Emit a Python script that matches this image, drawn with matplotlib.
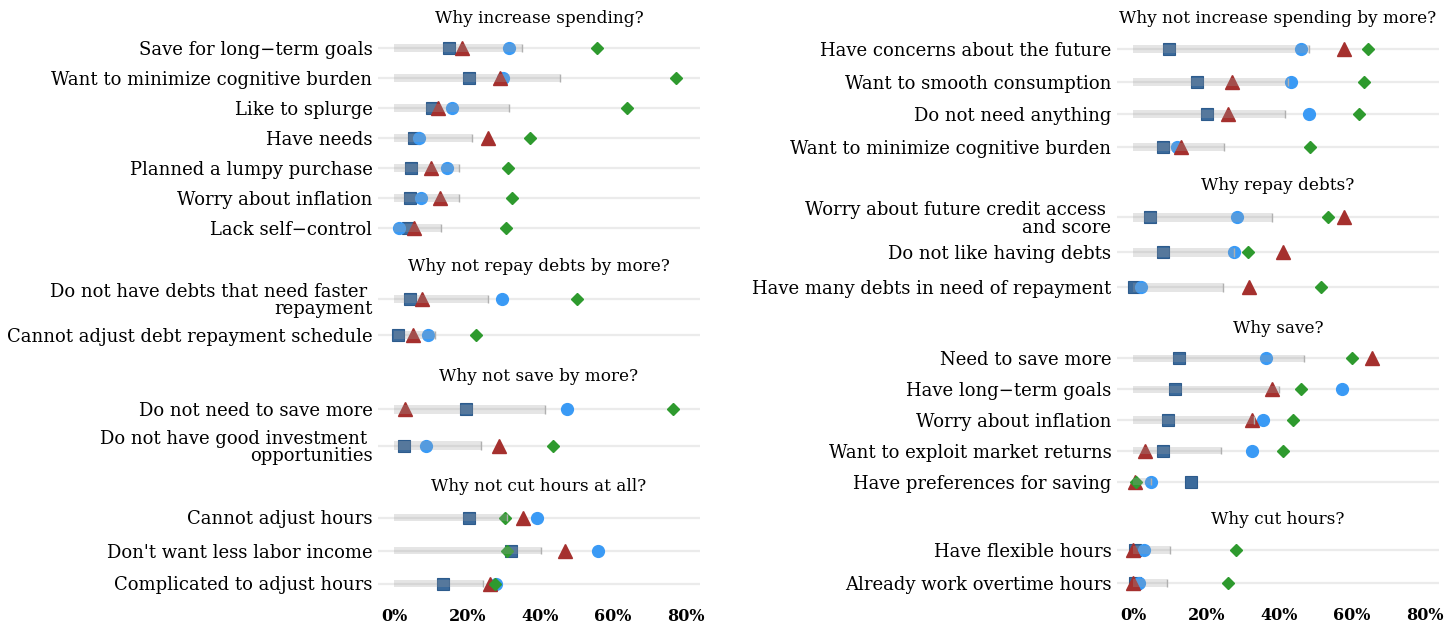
import matplotlib
matplotlib.use("Agg")
import matplotlib.pyplot as plt

plt.rcParams['font.family'] = ['DejaVu Serif']

# ---- data (percent of respondents) ----
# left column
inc_spend_labels = ["Save for long\u2212term goals", "Want to minimize cognitive burden", "Like to splurge",
                    "Have needs", "Planned a lumpy purchase", "Worry about inflation", "Lack self\u2212control"]
inc_spend_range = [35.1, 45.4, 31.4, 21.2, 17.7, 17.7, 12.7]
inc_spend_square = [14.9, 20.4, 10.3, 5.5, 4.5, 4.2, 3.7]
inc_spend_circle = [31.4, 29.9, 15.9, 6.7, 14.5, 7.2, 1.4]
inc_spend_triangle = [18.6, 29.0, 11.9, 25.7, 10.1, 12.6, 5.4]
inc_spend_diamond = [55.6, 77.5, 63.8, 37.4, 31.1, 32.3, 30.7]

no_repay_labels = ["Do not have debts that need faster \nrepayment", "Cannot adjust debt repayment schedule"]
no_repay_range = [25.6, 11.1]
no_repay_square = [4.3, 1.0]
no_repay_circle = [29.6, 9.2]
no_repay_triangle = [7.6, 5.0]
no_repay_diamond = [50.2, 22.5]

no_save_labels = ["Do not need to save more", "Do not have good investment \nopportunities"]
no_save_range = [41.5, 23.7]
no_save_square = [19.7, 2.6]
no_save_circle = [47.4, 8.7]
no_save_triangle = [2.8, 28.7]
no_save_diamond = [76.6, 43.6]

no_cut_labels = ["Cannot adjust hours", "Don't want less labor income", "Complicated to adjust hours"]
no_cut_range = [31.0, 40.3, 24.3]
no_cut_square = [20.4, 32.0, 13.5]
no_cut_circle = [39.2, 56.0, 28.0]
no_cut_triangle = [35.4, 46.8, 26.2]
no_cut_diamond = [30.5, 30.9, 27.6]

# right column
no_inc_labels = ["Have concerns about the future", "Want to smooth consumption", "Do not need anything",
                 "Want to minimize cognitive burden"]
no_inc_range = [48.2, 42.5, 41.6, 24.9]
no_inc_square = [9.8, 17.5, 20.2, 8.1]
no_inc_circle = [46.2, 43.3, 48.2, 12.1]
no_inc_triangle = [57.8, 27.2, 25.9, 13.2]
no_inc_diamond = [64.6, 63.5, 62.0, 48.6]

repay_labels = ["Worry about future credit access \nand score", "Do not like having debts",
                "Have many debts in need of repayment"]
repay_range = [38.1, 27.7, 24.6]
repay_square = [4.7, 8.2, 0.3]
repay_circle = [28.6, 27.7, 2.0]
repay_triangle = [57.8, 41.2, 31.8]
repay_diamond = [53.4, 31.5, 51.5]

save_labels = ["Need to save more", "Have long\u2212term goals", "Worry about inflation",
               "Want to exploit market returns", "Have preferences for saving"]
save_range = [46.8, 40.0, 33.1, 24.0, 4.8]
save_square = [12.5, 11.4, 9.5, 8.1, 15.8]
save_circle = [36.4, 57.3, 35.6, 32.5, 4.8]
save_triangle = [65.7, 38.2, 32.5, 3.3, 0.4]
save_diamond = [60.1, 46.2, 44.0, 41.2, 0.6]

cut_labels = ["Have flexible hours", "Already work overtime hours"]
cut_range = [10.1, 9.2]
cut_square = [0.4, 0.4]
cut_circle = [2.9, 1.5]
cut_triangle = [0.0, 0.0]
cut_diamond = [28.1, 26.0]

W, H = 1456, 628
fig = plt.figure(figsize=(W / 100, H / 100), dpi=100)


def panel(x0, x1, top, bottom, title, labels, rng, sq, circ, tri, dia, last=False):
    ax = fig.add_axes([x0 / W, 1 - bottom / H, (x1 - x0) / W, (bottom - top) / H])
    n = len(labels)
    ys = list(range(n))
    for y in ys:
        ax.axhline(y, color='#ebebeb', lw=1.6, zorder=0)
    ax.plot(sq, ys, 's', ms=8, color='#3b6a9b', mec='#2d5b8c', mew=0.8, ls='none', zorder=2)
    ax.plot(circ, ys, 'o', ms=8.5, color='#3a9af5', mec='#3a9af5', ls='none', zorder=3)
    ax.plot(tri, ys, '^', ms=10, color='#a5302e', mec='#a5302e', ls='none', zorder=4)
    ax.plot(dia, ys, 'D', ms=6, color='#2e9a2e', mec='#2e9a2e', ls='none', zorder=5)
    # translucent range bar on top of the markers
    ax.barh(ys, rng, height=0.24, left=0, color='#a0a0a0', alpha=0.27, lw=0, zorder=6)
    ax.vlines(rng, [y - 0.12 for y in ys], [y + 0.12 for y in ys], color='#b0b0b0', lw=1, zorder=6)
    ax.set_xlim(-4.5, 84)
    ax.set_ylim(n - 0.5, -0.5)
    ax.set_yticks(ys)
    ax.set_yticklabels(labels, fontsize=13, linespacing=0.95)
    ax.tick_params(axis='y', length=0, pad=4)
    ax.set_title(title, fontsize=12.2, pad=7)
    for s in ax.spines.values():
        s.set_visible(False)
    if last:
        ax.set_xticks([0, 20, 40, 60, 80])
        ax.set_xticklabels(["0%", "20%", "40%", "60%", "80%"], fontsize=11.5, fontweight='bold')
        ax.tick_params(axis='x', length=0, pad=6)
    else:
        ax.set_xticks([])
    return ax


lx0, lx1 = 378, 700
rx0, rx1 = 1117, 1439

panel(lx0, lx1, 33, 243, "Why increase spending?", inc_spend_labels, inc_spend_range,
      inc_spend_square, inc_spend_circle, inc_spend_triangle, inc_spend_diamond)
panel(lx0, lx1, 281, 353, "Why not repay debts by more?", no_repay_labels, no_repay_range,
      no_repay_square, no_repay_circle, no_repay_triangle, no_repay_diamond)
panel(lx0, lx1, 391, 464, "Why not save by more?", no_save_labels, no_save_range,
      no_save_square, no_save_circle, no_save_triangle, no_save_diamond)
panel(lx0, lx1, 501, 600, "Why not cut hours at all?", no_cut_labels, no_cut_range,
      no_cut_square, no_cut_circle, no_cut_triangle, no_cut_diamond, last=True)

panel(rx0, rx1, 33, 163, "Why not increase spending by more?", no_inc_labels, no_inc_range,
      no_inc_square, no_inc_circle, no_inc_triangle, no_inc_diamond)
panel(rx0, rx1, 200, 305, "Why repay debts?", repay_labels, repay_range,
      repay_square, repay_circle, repay_triangle, repay_diamond)
panel(rx0, rx1, 343, 497, "Why save?", save_labels, save_range,
      save_square, save_circle, save_triangle, save_diamond)
panel(rx0, rx1, 534, 599, "Why cut hours?", cut_labels, cut_range,
      cut_square, cut_circle, cut_triangle, cut_diamond, last=True)

fig.savefig("out.png", dpi=100)
